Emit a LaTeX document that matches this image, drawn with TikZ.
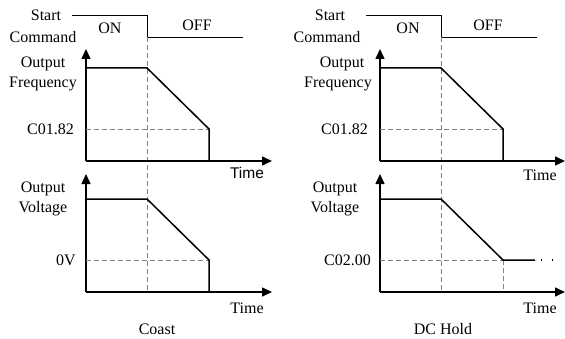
\documentclass[tikz,border=0pt]{standalone}
\usepackage{fontspec}
\setmainfont{Liberation Serif}
\newfontfamily\sansf{Liberation Sans}
\usetikzlibrary{arrows.meta}
\tikzset{
  axisarrow/.style={line width=1.5pt,-{Triangle[length=10pt,width=9pt]}},
  curve/.style={line width=1.5pt,line join=miter},
  cmd/.style={line width=0.8pt},
  guide/.style={gray,line width=0.9pt,dash pattern=on 5pt off 3pt},
  lbl/.style={font=\fontsize{16}{18}\selectfont,inner sep=0pt},
  dots/.style={line width=1.2pt,dash pattern=on 1.2pt off 10pt}
}
\begin{document}
\begin{tikzpicture}[x=1pt,y=1pt]
\useasboundingbox (0,0) rectangle (565,338);
% ---------------- left panel ----------------
\coordinate (sa) at (72,323);
\coordinate (sb) at (147,323);
\coordinate (sc) at (147,301);
\coordinate (sd) at (243,301);
\draw[cmd] (sa) -- (sb) -- (sc) -- (sd);
\coordinate (dv1) at (147,46);
\draw[guide] (sc) -- (dv1);
% frequency
\coordinate (fo) at (86,177);
\coordinate (fy) at (86,289);
\coordinate (fx) at (272,177);
\draw[axisarrow] (fo) -- (fy);
\draw[axisarrow] (fo) -- (fx);
\coordinate (f1) at (86,270);
\coordinate (f2) at (147,270);
\coordinate (f3) at (209,209);
\coordinate (f4) at (209,177);
\coordinate (fl) at (86,209);
\draw[guide] (fl) -- (f3);
\draw[curve] (f1) -- (f2) -- (f3) -- (f4);
% voltage
\coordinate (vo) at (86,46);
\coordinate (vy) at (86,164);
\coordinate (vx) at (272,46);
\draw[axisarrow] (vo) -- (vy);
\draw[axisarrow] (vo) -- (vx);
\coordinate (v1) at (86,139);
\coordinate (v2) at (147,139);
\coordinate (v3) at (209,78);
\coordinate (v4) at (209,46);
\coordinate (vl) at (86,78);
\draw[guide] (vl) -- (v3);
\draw[curve] (v1) -- (v2) -- (v3) -- (v4);
% labels
\node[lbl] (start1) at (46,323) {Start};
\node[lbl] (cmd1) at (43,301) {Command};
\node[lbl] (on1) at (110,310) {ON};
\node[lbl] (off1) at (197,313) {OFF};
\node[lbl] (of1) at (43,274) {Output};
\node[lbl] (fr1) at (43,254) {Frequency};
\node[lbl,anchor=east] (c1) at (74,209) {C01.82};
\node[lbl,font=\sansf\fontsize{15.5}{18}\selectfont] (t1) at (247,165) {Time};
\node[lbl] (ov1) at (43,149) {Output};
\node[lbl] (vo1) at (43,129) {Voltage};
\node[lbl,anchor=east] (z1) at (76,78) {0V};
\node[lbl] (t2) at (247,30) {Time};
\node[lbl] (coast) at (157,9) {Coast};
% ---------------- right panel ----------------
\begin{scope}[xshift=294pt]
\coordinate (Sa) at (72,323);
\coordinate (Sb) at (147,323);
\coordinate (Sc) at (147,301);
\coordinate (Sd) at (243,301);
\draw[cmd] (Sa) -- (Sb) -- (Sc) -- (Sd);
\coordinate (Dv1) at (147,46);
\draw[guide] (Sc) -- (Dv1);
% frequency
\coordinate (Fo) at (86,177);
\coordinate (Fy) at (86,289);
\coordinate (Fx) at (271,177);
\draw[axisarrow] (Fo) -- (Fy);
\draw[axisarrow] (Fo) -- (Fx);
\coordinate (F1) at (86,270);
\coordinate (F2) at (147,270);
\coordinate (F3) at (209,209);
\coordinate (F4) at (209,177);
\coordinate (Fl) at (86,209);
\draw[guide] (Fl) -- (F3);
\draw[curve] (F1) -- (F2) -- (F3) -- (F4);
% voltage
\coordinate (Vo) at (86,46);
\coordinate (Vy) at (86,164);
\coordinate (Vx) at (271,46);
\draw[axisarrow] (Vo) -- (Vy);
\draw[axisarrow] (Vo) -- (Vx);
\coordinate (V1) at (86,139);
\coordinate (V2) at (147,139);
\coordinate (V3) at (209,78);
\coordinate (V4) at (241,78);
\coordinate (V5) at (247,78);
\coordinate (V6) at (262,78);
\coordinate (Vl) at (86,78);
\coordinate (Vb) at (209,46);
\draw[guide] (Vl) -- (V3);
\draw[guide] (V3) -- (Vb);
\draw[curve] (V1) -- (V2) -- (V3) -- (V4);
\draw[dots] (V5) -- (V6);
% labels
\node[lbl] (start2) at (36,323) {Start};
\node[lbl] (cmd2) at (33,301) {Command};
\node[lbl] (on2) at (114,310) {ON};
\node[lbl] (off2) at (194,313) {OFF};
\node[lbl] (of2) at (48,274) {Output};
\node[lbl] (fr2) at (44,254) {Frequency};
\node[lbl,anchor=east] (c2) at (74,209) {C01.82};
\node[lbl] (t3) at (246,163) {Time};
\node[lbl] (ov2) at (41,149) {Output};
\node[lbl] (vo2) at (41,129) {Voltage};
\node[lbl,anchor=east] (z2) at (77,78) {C02.00};
\node[lbl] (t4) at (246,30) {Time};
\node[lbl] (dch) at (149,9) {DC Hold};
\end{scope}
\end{tikzpicture}
\end{document}
